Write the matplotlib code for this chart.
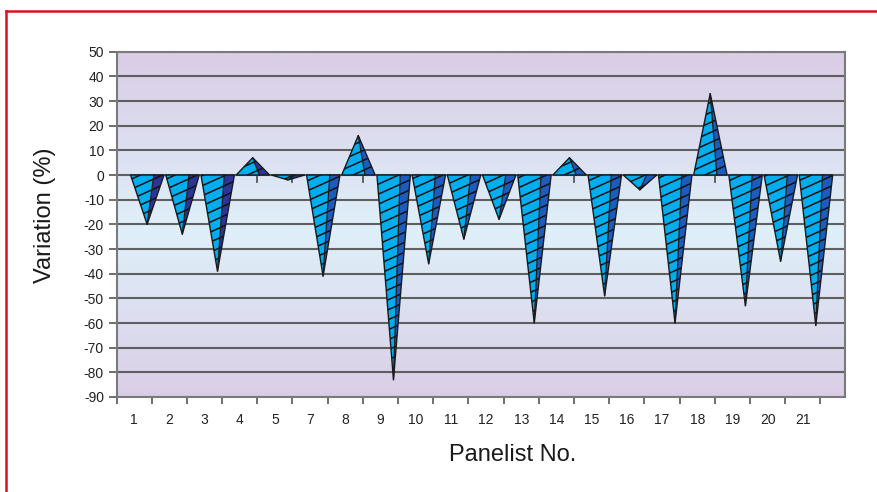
import numpy as np
import matplotlib
matplotlib.use('Agg')
import matplotlib.pyplot as plt
from matplotlib.patches import Polygon
from matplotlib.collections import LineCollection
from matplotlib.lines import Line2D

# ---- data ----
panelists = ['1', '2', '3', '4', '5', '7', '8', '9', '10', '11', '12', '13',
             '14', '15', '16', '17', '18', '19', '20', '21']
variation = [-20, -24, -39, 7, -2, -41, 16, -83, -36, -26, -18, -60,
             7, -49, -6, -60, 33, -53, -35, -61]
y_ticks = list(range(-90, 51, 10))

plt.rcParams['font.family'] = ['Liberation Sans', 'DejaVu Sans']

W, H = 877, 492
fig = plt.figure(figsize=(W / 100, H / 100), dpi=100)
ax_l, ax_r, ax_t, ax_b = 116.5, 845, 51.7, 397
ax = fig.add_axes([ax_l / W, 1 - ax_b / H, (ax_r - ax_l) / W, (ax_b - ax_t) / H])

n = len(panelists)
xmax = n + 0.7
ax.set_xlim(0, xmax)
ax.set_ylim(-90, 50)

kx = (ax_r - ax_l) / xmax          # px per category
ky = (ax_b - ax_t) / 140.0          # px per unit

# background gradient
ys = np.linspace(50, -90, 400)
edge = np.array([218, 206, 230]) / 255
center = np.array([223, 240, 250]) / 255
t = np.clip(np.abs(ys + 22) / 68, 0, 1)[:, None]
grad = center * (1 - t) + edge * t
img = np.repeat(grad[:, None, :], 2, axis=1)
ax.imshow(img, extent=[0, xmax, -90, 50], aspect='auto', zorder=0,
          interpolation='bilinear')

# grid
for yv in y_ticks:
    ax.axhline(yv, color='#5f5f5f', lw=1.5, zorder=1)

# small floor ticks on zero line
for j in range(1, n + 1):
    ax.plot([j, j], [0, -7 / ky], color='#555555', lw=1.3, zorder=1.5)

# cones
off_l, off_a, off_s, off_r = 0.40, 0.87, 1.06, 1.35
light = '#00AEEF'
slope_d = 0.45 * kx / ky
spacing_d = 10 / ky
for i, v in enumerate(variation):
    dark = '#2B3597' if i < 5 else '#1D5CBF'
    xl, xa, xs, xr = i + off_l, i + off_a, i + off_s, i + off_r
    front = Polygon([(xl, 0), (xa, v), (xs, 0)], closed=True, fc=light,
                    ec='none', zorder=3)
    side = Polygon([(xs, 0), (xa, v), (xr, 0)], closed=True, fc=dark,
                   ec='none', zorder=3)
    ax.add_patch(front)
    ax.add_patch(side)
    tri = Polygon([(xl, 0), (xa, v), (xr, 0)], closed=True, fill=False,
                  ec='#1a1a1a', lw=1.0, zorder=5)
    ax.add_patch(tri)
    ymin, ymax = min(v, 0), max(v, 0)
    segs = []
    b = ymin - slope_d * (xr - xl) - spacing_d
    while b <= ymax:
        segs.append([(xl, b), (xr, b + slope_d * (xr - xl))])
        b += spacing_d
    lc = LineCollection(segs, colors='#111111', linewidths=1.1, zorder=4)
    ax.add_collection(lc)
    lc.set_clip_path(tri)
    ax.plot([xa, xs], [v, 0], color='#1a1a1a', lw=0.9, zorder=5)

# axes styling
for s in ax.spines.values():
    s.set_color('#7a7a7a')
    s.set_linewidth(1.5)
    s.set_zorder(6)

ax.set_yticks(y_ticks)
ax.set_yticklabels([str(v) for v in y_ticks])
ax.tick_params(axis='y', direction='out', length=6, width=1.2, color='#555555',
               pad=3, labelsize=10, labelcolor='#222222')

ax.set_xticks(range(0, n + 1))
ax.set_xticklabels([])
ax.set_xticks([i + 0.5 for i in range(n)], minor=True)
ax.set_xticklabels(panelists, minor=True)
ax.tick_params(axis='x', which='major', direction='out', length=5, width=1.2,
               color='#555555')
ax.tick_params(axis='x', which='minor', length=0, pad=11.5, labelsize=10,
               labelcolor='#222222')

fig.text(45 / W, 1 - 215 / H, 'Variation (%)', rotation=90, ha='center',
         va='center', fontsize=17, color='#1a1a1a')
fig.text(513 / W, 1 - 455 / H, 'Panelist No.', ha='center', va='center',
         fontsize=17, color='#1a1a1a')

# red frame
red = '#D7151F'
fig.add_artist(Line2D([6 / W, 6 / W], [0, 1 - 11 / H], transform=fig.transFigure,
                      color=red, lw=1.8))
fig.add_artist(Line2D([6 / W, 1], [1 - 11 / H, 1 - 11 / H], transform=fig.transFigure,
                      color=red, lw=1.8))

fig.savefig('out.png', dpi=100)
